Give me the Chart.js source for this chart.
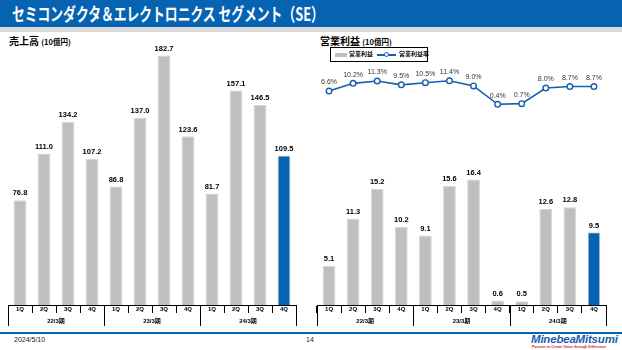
<!DOCTYPE html>
<html><head><meta charset="utf-8">
<script src="https://cdn.jsdelivr.net/npm/chart.js@4.4.1/dist/chart.umd.min.js"></script>
<style>
html,body{margin:0;padding:0;}
body{width:622px;height:350px;position:relative;overflow:hidden;background:#fff;font-family:"Liberation Sans","Noto Sans CJK JP",sans-serif;}
#hdr{position:absolute;left:0;top:0;width:622px;height:27px;background:#0563B2;}
#hdr2{position:absolute;left:0;top:27px;width:622px;height:5px;background:#D9D9D9;}
#ttl{position:absolute;left:12px;top:0px;color:#fff;font:bold 18px/26px "Noto Sans CJK JP";white-space:nowrap;transform-origin:0 0;transform:scaleX(0.71);}
.sub{position:absolute;top:34px;font:bold 10px/14px "Noto Sans CJK JP";color:#000;white-space:nowrap;}
.sub small{font-size:7.5px;}
.box{position:absolute;}
#lg{position:absolute;left:330px;top:47px;width:96px;height:13px;border:1px solid #000;font:bold 6px/8px "Noto Sans CJK JP";color:#000;white-space:nowrap;}
#lg span{position:absolute;top:2px;}
#foot{position:absolute;left:0;top:332px;width:622px;height:1.5px;background:#0563B2;}
.ft{position:absolute;top:336px;font:7px "Liberation Sans";color:#222;}
#logo{position:absolute;left:531px;top:333px;font:italic bold 11.5px "Liberation Sans";color:#1A5DAD;letter-spacing:-0.2px;}
#tag{position:absolute;left:532px;top:345px;font:bold 3.6px "Liberation Sans";color:#D3243A;white-space:nowrap;}
</style></head>
<body>
<div id="hdr"></div><div id="hdr2"></div>
<div id="ttl">セミコンダクタ＆エレクトロニクス セグメント（SE）</div>
<div class="sub" style="left:9px">売上高 <small>(10億円)</small></div>
<div class="sub" style="left:320px">営業利益 <small>(10億円)</small></div>
<div class="box" style="left:0;top:32px;width:310px;height:300px"><canvas id="c1"></canvas></div>
<div class="box" style="left:310px;top:32px;width:312px;height:300px"><canvas id="c2"></canvas></div>
<div id="lg"></div>
<div id="foot"></div>
<div class="ft" style="left:14px">2024/5/10</div>
<div class="ft" style="left:306px">14</div>
<div id="logo">MinebeaMitsumi</div>
<div id="tag">Passion to Create Value through Difference</div>
<script>
const quarters=['1Q','2Q','3Q','4Q','1Q','2Q','3Q','4Q','1Q','2Q','3Q','4Q'];
const years=['22/3期','23/3期','24/3期'];
const sales=[76.8,111.0,134.2,107.2,86.8,137.0,182.7,123.6,81.7,157.1,146.5,109.5];
const profit=[5.1,11.3,15.2,10.2,9.1,15.6,16.4,0.6,0.5,12.6,12.8,9.5];
const margin=[6.6,10.2,11.3,9.5,10.5,11.4,9.0,0.4,0.7,8.0,8.7,8.7];
const seriesNames=['営業利益','営業利益率'];

const GRAY='#BFBFBF',BLUE='#0563B2',LINE='#165FAA';
const barColors=sales.map((v,i)=>i===sales.length-1?BLUE:GRAY);

// value labels above bars / points
const valueLabels={
  id:'valueLabels',
  afterDatasetsDraw(chart){
    const ctx=chart.ctx;
    chart.data.datasets.forEach((ds,di)=>{
      const meta=chart.getDatasetMeta(di);
      ctx.save();
      ctx.font=ds.lblFont;ctx.fillStyle=ds.lblColor;ctx.textAlign='center';ctx.textBaseline='bottom';
      meta.data.forEach((el,i)=>{ctx.fillText(ds.fmt(ds.data[i]),el.x,el.y-ds.lblGap);});
      ctx.restore();
    });
  }
};
// fiscal year groups under the quarter axis
const yearAxis={
  id:'yearAxis',
  afterDraw(chart){
    const x=chart.scales.x,ctx=chart.ctx,b=chart.chartArea.bottom;
    const step=x.getPixelForValue(1)-x.getPixelForValue(0);
    const edge=k=>x.getPixelForValue(0)+(k-0.5)*step;
    ctx.save();
    ctx.strokeStyle='#000';ctx.lineWidth=1;
    for(let k=0;k<=12;k+=4){const px=Math.round(edge(k))+0.5;ctx.beginPath();ctx.moveTo(px,b);ctx.lineTo(px,b+21);ctx.stroke();}
    ctx.font='bold 6px "Liberation Sans","Noto Sans CJK JP"';ctx.fillStyle='#000';ctx.textAlign='center';ctx.textBaseline='middle';
    years.forEach((y,g)=>ctx.fillText(y,(edge(g*4)+edge(g*4+4))/2,b+16));
    ctx.restore();
  }
};
function xAxis(){
  return {type:'category',offset:true,
    grid:{offset:true,drawOnChartArea:false,drawTicks:true,tickLength:8,color:'#000',lineWidth:1},
    border:{display:true,color:'#000',width:1},
    ticks:{color:'#000',font:{size:6,weight:'bold',family:'Liberation Sans'},padding:-7,maxRotation:0,autoSkip:false},
    afterFit(s){s.height=21;}};
}
const barLbl={lblFont:'bold 7.5px "Liberation Sans"',lblColor:'#000',lblGap:3,fmt:v=>v.toFixed(1)};
const common={responsive:true,maintainAspectRatio:false,animation:false,
  plugins:{legend:{display:false},tooltip:{enabled:false}}};

new Chart(document.getElementById('c1'),{
  type:'bar',
  data:{labels:quarters,datasets:[{data:sales,backgroundColor:barColors,borderColor:'#D6D6D6',borderWidth:{left:1,right:1,top:1,bottom:0},
    barPercentage:0.54,categoryPercentage:1,...barLbl}]},
  options:{...common,layout:{padding:{left:8,right:14,top:0,bottom:6}},
    scales:{x:xAxis(),y:{display:false,min:0,max:200}}},
  plugins:[valueLabels,yearAxis]
});

new Chart(document.getElementById('c2'),{
  type:'bar',
  data:{labels:quarters,datasets:[
    {type:'line',label:seriesNames[1],data:margin,yAxisID:'y2',borderColor:LINE,borderWidth:1.6,
      pointRadius:2.8,pointBackgroundColor:'#fff',pointBorderColor:LINE,pointBorderWidth:1.4,
      lblFont:'7px "Liberation Sans"',lblColor:'#333',lblGap:5,fmt:v=>v.toFixed(1)+'%'},
    {label:seriesNames[0],data:profit,backgroundColor:barColors,borderColor:'#D6D6D6',borderWidth:{left:1,right:1,top:1,bottom:0},
      barPercentage:0.53,categoryPercentage:1,...barLbl}
  ]},
  options:{...common,layout:{padding:{left:7,right:16,top:0,bottom:6}},
    scales:{x:xAxis(),y:{display:false,min:0,max:35},y2:{display:false,min:-93.5,max:31.7}}},
  plugins:[valueLabels,yearAxis]
});

// legend box
document.getElementById('lg').innerHTML=
  '<span style="left:4px;top:5px;width:12px;height:4px;background:'+GRAY+'"></span>'+
  '<span style="left:18px">'+seriesNames[0]+'</span>'+
  '<span style="left:46px;top:6px;width:19px;height:1.6px;background:'+LINE+'"></span>'+
  '<span style="left:53px;top:4px;width:3px;height:3px;border:1.2px solid '+LINE+';border-radius:50%;background:#fff"></span>'+
  '<span style="left:68px">'+seriesNames[1]+'</span>';
</script>
</body></html>
